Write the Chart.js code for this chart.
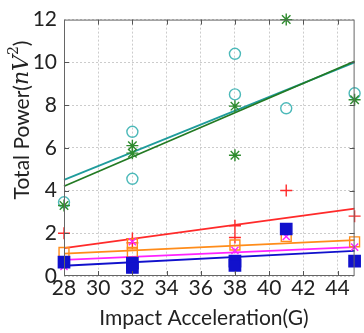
<!DOCTYPE html>
<html>
<head>
<meta charset="utf-8">
<script src="https://cdn.jsdelivr.net/npm/chart.js@4/dist/chart.umd.min.js"></script>
<style>
html,body{margin:0;padding:0;background:#fff;}
#wrap{width:364px;height:333px;position:relative;}
</style>
</head>
<body>
<div id="wrap"><canvas id="c" width="364" height="333"></canvas></div>
<script>
// ---- data ----
const xTicks = [28, 30, 32, 34, 36, 38, 40, 42, 44];
const yTicks = [0, 2, 4, 6, 8, 10, 12];

const circleX = [28, 32, 32, 38, 38, 41, 45];
const circleY = [3.45, 6.75, 4.55, 10.4, 8.5, 7.85, 8.55];

const starX = [28, 32, 32, 38, 38, 41, 45];
const starY = [3.3, 6.1, 5.75, 7.95, 5.65, 12.0, 8.25];

const plusX = [28, 32, 32, 38, 38, 41, 45];
const plusY = [2.0, 1.75, 1.55, 2.35, 1.8, 4.0, 2.8];

const oSquareX = [28, 32, 32, 38, 41, 45];
const oSquareY = [1.1, 1.5, 1.1, 1.45, 1.85, 1.6];

const xMarkX = [28, 32, 38, 41, 45];
const xMarkY = [0.45, 1.6, 1.2, 1.85, 1.35];

const bSquareX = [28, 32, 32, 38, 38, 41, 45];
const bSquareY = [0.65, 0.6, 0.4, 0.7, 0.5, 2.2, 0.7];

// fitted lines: endpoints at x = 28 and x = 45
const fitX = [28, 45];
const tealFit = [4.5, 10.0];
const greenFit = [4.2, 10.05];
const redFit = [1.3, 3.15];
const orangeFit = [1.05, 1.68];
const magentaFit = [0.75, 1.35];
const blueFit = [0.48, 1.18];

const pts = (xs, ys) => xs.map((x, i) => ({x: x, y: ys[i]}));

const C = {
  tealPt: '#4cb9b9', teal: '#1f9c9c', green: '#237a23', greenPt: '#2e8b2e',
  red: '#ff2a2a', orange: '#ff8c1a', magenta: '#ff22ff', blue: '#1111cc'
};

function pointSet(data, style, color, radius, fill, order) {
  return {data: data, showLine: false, pointStyle: style, pointRadius: radius,
    pointBorderColor: color, pointBackgroundColor: fill ? color : 'rgba(0,0,0,0)',
    pointBorderWidth: 1.4, clip: false, order: order};
}
function lineSet(ys, color, order) {
  return {data: pts(fitX, ys), showLine: true, borderColor: color, borderWidth: 1.8,
    pointRadius: 0, clip: false, order: order};
}

const frame = {
  id: 'frame',
  afterDraw(chart) {
    const ctx = chart.ctx, a = chart.chartArea;
    const xs = chart.scales.x, ys = chart.scales.y;
    ctx.save();
    ctx.strokeStyle = '#666';
    ctx.lineWidth = 1;
    ctx.setLineDash([]);
    ctx.strokeRect(a.left + 0.5, a.top + 0.5, a.right - a.left - 1, a.bottom - a.top - 1);
    ctx.strokeStyle = '#555';
    ctx.beginPath();
    xTicks.forEach(v => {
      if (v === 28) return;
      const px = Math.round(xs.getPixelForValue(v)) + 0.5;
      ctx.moveTo(px, a.bottom); ctx.lineTo(px, a.bottom - 5);
      ctx.moveTo(px, a.top); ctx.lineTo(px, a.top + 5);
    });
    yTicks.forEach(v => {
      if (v === 0 || v === 12) return;
      const py = Math.round(ys.getPixelForValue(v)) + 0.5;
      ctx.moveTo(a.left, py); ctx.lineTo(a.left + 5, py);
      ctx.moveTo(a.right, py); ctx.lineTo(a.right - 5, py);
    });
    ctx.stroke();
    // axis titles
    ctx.fillStyle = '#222';
    ctx.textBaseline = 'middle';
    ctx.textAlign = 'center';
    ctx.font = '21px Lato, "Open Sans", sans-serif';
    ctx.fillText('Impact Acceleration(G)', 204, 318);
    // y title with math-styled unit
    ctx.translate(22, 120);
    ctx.rotate(-Math.PI / 2);
    const parts = [
      {t: 'Total Power(', f: '21px Lato, "Open Sans", sans-serif', dy: 0},
      {t: 'nV', f: 'italic 22px "DejaVu Serif", "Liberation Serif", serif', dy: 0},
      {t: '2', f: '14px "DejaVu Serif", "Liberation Serif", serif', dy: -8},
      {t: ')', f: '21px Lato, "Open Sans", sans-serif', dy: 0}
    ];
    let total = 0;
    parts.forEach(p => { ctx.font = p.f; p.w = ctx.measureText(p.t).width; total += p.w; });
    let x = -total / 2;
    ctx.textAlign = 'left';
    parts.forEach(p => { ctx.font = p.f; ctx.fillText(p.t, x, p.dy); x += p.w; });
    ctx.restore();
  }
};

new Chart(document.getElementById('c'), {
  type: 'scatter',
  data: {
    datasets: [
      pointSet(pts(bSquareX, bSquareY), 'rect', C.blue, 8, true, 1),
      pointSet(pts(xMarkX, xMarkY), 'crossRot', C.magenta, 5, false, 2),
      pointSet(pts(oSquareX, oSquareY), 'rect', C.orange, 7, false, 3),
      pointSet(pts(plusX, plusY), 'cross', C.red, 6, false, 4),
      pointSet(pts(starX, starY), 'star', C.greenPt, 6, false, 5),
      pointSet(pts(circleX, circleY), 'circle', C.tealPt, 5.5, false, 6),
      lineSet(blueFit, C.blue, 7),
      lineSet(magentaFit, C.magenta, 8),
      lineSet(orangeFit, C.orange, 9),
      lineSet(redFit, C.red, 10),
      lineSet(greenFit, C.green, 11),
      lineSet(tealFit, C.teal, 12)
    ]
  },
  options: {
    responsive: false,
    animation: false,
    devicePixelRatio: 1,
    layout: {padding: {left: 0, right: 2, top: 15, bottom: 0}},
    plugins: {legend: {display: false}, tooltip: {enabled: false}},
    scales: {
      x: {
        type: 'linear', min: 28, max: 45,
        afterBuildTicks: s => { s.ticks = xTicks.map(v => ({value: v})); },
        afterFit: s => { s.height = 57; },
        grid: {color: '#cccccc', lineWidth: 1, drawTicks: false},
        border: {display: false, dash: [2, 2]},
        ticks: {font: {family: 'Lato, "Open Sans", sans-serif', size: 21}, color: '#222', padding: 0, maxRotation: 0, autoSkip: false}
      },
      y: {
        type: 'linear', min: 0, max: 12,
        afterBuildTicks: s => { s.ticks = yTicks.map(v => ({value: v})); },
        afterFit: s => { s.width = 64; },
        grid: {color: '#cccccc', lineWidth: 1, drawTicks: false},
        border: {display: false, dash: [2, 2]},
        ticks: {font: {family: 'Lato, "Open Sans", sans-serif', size: 21}, color: '#222', padding: 7}
      }
    }
  },
  plugins: [frame]
});
</script>
</body>
</html>
